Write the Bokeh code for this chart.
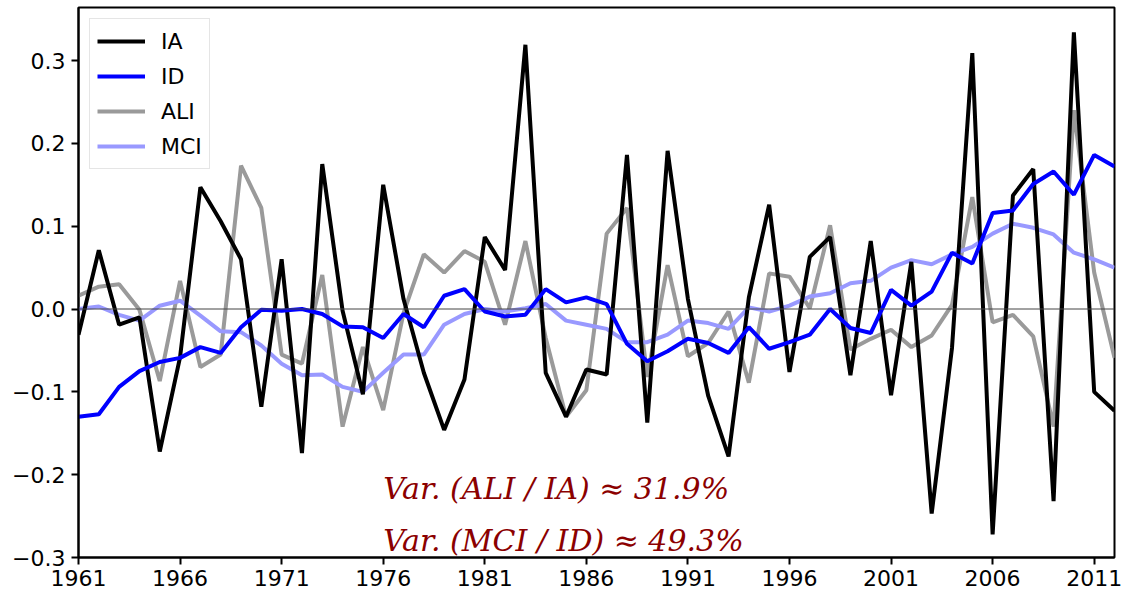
from bokeh.plotting import figure
from bokeh.models import (ColumnDataSource, Range1d, FixedTicker, CustomJSTickFormatter,
                          Span, Label, Legend, LegendItem)
from bokeh.embed import file_html
from bokeh.resources import INLINE

years = [1961, 1962, 1963, 1964, 1965, 1966, 1967, 1968, 1969, 1970,
         1971, 1972, 1973, 1974, 1975, 1976, 1977, 1978, 1979, 1980,
         1981, 1982, 1983, 1984, 1985, 1986, 1987, 1988, 1989, 1990,
         1991, 1992, 1993, 1994, 1995, 1996, 1997, 1998, 1999, 2000,
         2001, 2002, 2003, 2004, 2005, 2006, 2007, 2008, 2009, 2010,
         2011, 2012]

ia = [-0.031, 0.071, -0.019, -0.010, -0.172, -0.058, 0.147, 0.106, 0.060, -0.118,
      0.060, -0.174, 0.175, -0.002, -0.103, 0.150, 0.012, -0.077, -0.146, -0.085,
      0.087, 0.047, 0.319, -0.077, -0.130, -0.073, -0.079, 0.186, -0.137, 0.191,
      0.012, -0.105, -0.178, 0.014, 0.126, -0.076, 0.063, 0.087, -0.080, 0.082,
      -0.104, 0.057, -0.247, -0.047, 0.309, -0.272, 0.137, 0.169, -0.232, 0.334,
      -0.100, -0.123]

id_ = [-0.130, -0.127, -0.094, -0.075, -0.064, -0.059, -0.046, -0.053, -0.022, -0.001,
       -0.002, 0.000, -0.006, -0.021, -0.022, -0.035, -0.006, -0.022, 0.016, 0.024,
       -0.003, -0.009, -0.007, 0.024, 0.008, 0.014, 0.006, -0.042, -0.063, -0.051,
       -0.036, -0.041, -0.053, -0.022, -0.048, -0.040, -0.031, 0.000, -0.023, -0.029,
       0.023, 0.004, 0.021, 0.068, 0.055, 0.116, 0.119, 0.151, 0.166, 0.138,
       0.186, 0.172]

ali = [0.016, 0.027, 0.030, -0.001, -0.087, 0.034, -0.070, -0.055, 0.173, 0.122,
       -0.055, -0.066, 0.041, -0.142, -0.046, -0.122, -0.005, 0.066, 0.044, 0.070,
       0.057, -0.019, 0.082, -0.035, -0.130, -0.098, 0.091, 0.122, -0.082, 0.053,
       -0.057, -0.041, -0.003, -0.089, 0.043, 0.039, 0.001, 0.101, -0.049, -0.036,
       -0.025, -0.046, -0.032, 0.005, 0.135, -0.016, -0.007, -0.033, -0.142, 0.240,
       0.044, -0.059]

mci = [0.000, 0.003, -0.007, -0.014, 0.004, 0.010, -0.008, -0.027, -0.028, -0.044,
       -0.066, -0.080, -0.079, -0.094, -0.100, -0.077, -0.055, -0.055, -0.019, -0.006,
       0.000, -0.003, 0.001, 0.006, -0.014, -0.019, -0.024, -0.040, -0.040, -0.031,
       -0.014, -0.017, -0.024, 0.002, -0.003, 0.004, 0.015, 0.019, 0.031, 0.034,
       0.050, 0.059, 0.054, 0.066, 0.075, 0.091, 0.103, 0.098, 0.090, 0.068,
       0.060, 0.050]

series_names = ["IA", "ID", "ALI", "MCI"]
x_ticks = [1961, 1966, 1971, 1976, 1981, 1986, 1991, 1996, 2001, 2006, 2011]
y_ticks = [-0.3, -0.2, -0.1, 0.0, 0.1, 0.2, 0.3]
notes = ["Var. (ALI / IA) \u2248 31.9%", "Var. (MCI / ID) \u2248 49.3%"]
note_x = [1976, 1976]
note_y = [-0.2165, -0.2790]

src = ColumnDataSource(dict(year=years, ia=ia, id=id_, ali=ali, mci=mci))

p = figure(width=1129, height=598, output_backend="svg", toolbar_location=None,
           x_range=Range1d(1961, 2012), y_range=Range1d(-0.3, 0.364),
           min_border_left=78, min_border_right=15, min_border_top=7, min_border_bottom=41)
p.grid.visible = False
p.background_fill_color = "white"
p.border_fill_color = "white"
p.outline_line_color = "black"
p.outline_line_width = 2
p.outline_line_alpha = 1

for ax in (p.xaxis[0], p.yaxis[0]):
    ax.axis_line_color = "black"
    ax.axis_line_width = 2
    ax.major_tick_line_color = "black"
    ax.major_tick_line_width = 2
    ax.major_tick_out = 7
    ax.major_tick_in = 0
    ax.minor_tick_line_color = None
    ax.major_label_text_font = "DejaVu Sans"
    ax.major_label_text_font_size = "22px"
    ax.major_label_text_color = "black"

p.xaxis.ticker = FixedTicker(ticks=x_ticks)
p.xaxis.major_label_standoff = 5
p.yaxis.ticker = FixedTicker(ticks=y_ticks)
p.yaxis.major_label_standoff = 6
p.yaxis.formatter = CustomJSTickFormatter(
    code="return (tick < -1e-9 ? '\u2212' : '') + Math.abs(tick).toFixed(1);")

p.add_layout(Span(location=0, dimension="width", line_color="#444444", line_width=1))

LW = 4
r_ali = p.line("year", "ali", source=src, line_color="#9a9a9a", line_width=LW)
r_mci = p.line("year", "mci", source=src, line_color="#9999ff", line_width=LW)
r_ia = p.line("year", "ia", source=src, line_color="black", line_width=LW)
r_id = p.line("year", "id", source=src, line_color="#0000ff", line_width=LW)

legend = Legend(items=[LegendItem(label=series_names[0], renderers=[r_ia]),
                       LegendItem(label=series_names[1], renderers=[r_id]),
                       LegendItem(label=series_names[2], renderers=[r_ali]),
                       LegendItem(label=series_names[3], renderers=[r_mci])],
                location="top_left", margin=11, padding=7, spacing=5,
                glyph_width=48, glyph_height=30, label_height=30,
                label_standoff=16,
                label_text_font="DejaVu Sans", label_text_font_size="22px",
                label_text_color="black",
                border_line_color="#cccccc", border_line_width=1,
                background_fill_color="white", background_fill_alpha=0.8)
p.add_layout(legend)

for t, xx, yy in zip(notes, note_x, note_y):
    p.add_layout(Label(x=xx, y=yy, text=t, text_font="DejaVu Serif",
                       text_font_style="italic", text_font_size="30px",
                       text_color="#8b0000", text_baseline="alphabetic",
                       text_align="left"))

open("out.html", "w").write(file_html(p, INLINE))
